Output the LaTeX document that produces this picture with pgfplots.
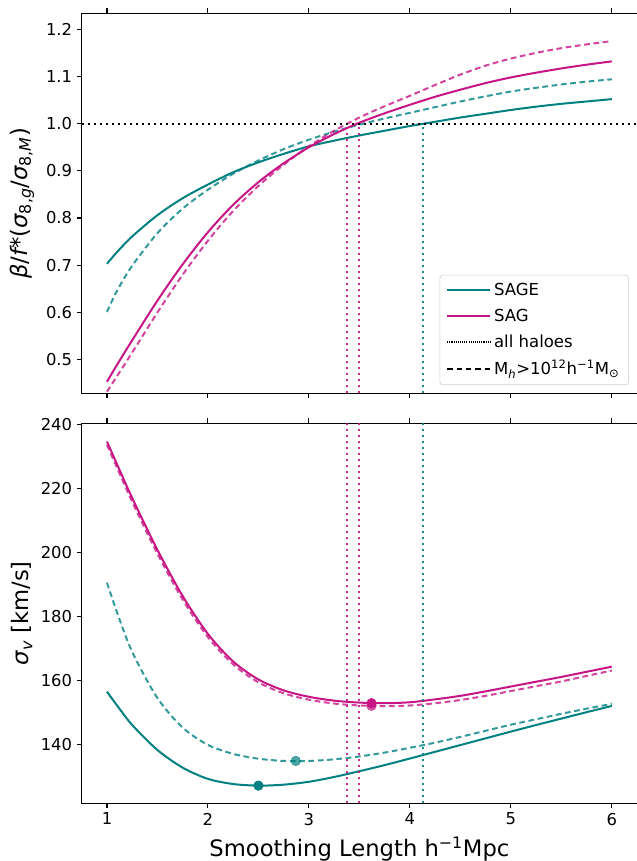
\documentclass[border=0pt]{standalone}
\usepackage{fontspec}
\setmainfont{DejaVu Sans}
\usepackage{pgfplots}
\pgfplotsset{compat=1.18}
\definecolor{sage}{HTML}{008080}
\definecolor{sag}{HTML}{C71585}
\begin{document}
\begin{tikzpicture}
\pgfplotsset{
 myaxis/.style={
  scale only axis, width=416.5pt, height=285pt,
  xmin=0.75, xmax=6.25,
  xtick={1,2,3,4,5,6},
  tick align=outside, major tick length=3.7pt,
  every tick/.style={black, line width=0.8pt},
  axis line style={line width=0.8pt},
  tick label style={font=\fontsize{12.3}{14}\selectfont},
  /pgf/number format/assume math mode=true,
  ylabel style={font=\fontsize{17}{20}\selectfont, at={(axis description cs:-0.1076,0.5)}, anchor=center},
  xlabel style={font=\fontsize{17}{20}\selectfont},
  solidS/.style={sage, line width=1.5pt, smooth},
  dashS/.style={sage, line width=1.5pt, smooth, draw opacity=0.8, dash pattern=on 4.3pt off 2.7pt},
  solidG/.style={sag, line width=1.5pt, smooth},
  dashG/.style={sag, line width=1.5pt, smooth, draw opacity=0.8, dash pattern=on 4.3pt off 2.7pt},
  vdot/.style={line width=1.5pt, dash pattern=on 1.5pt off 3pt, draw opacity=0.9},
 },
}
% ---------------- top panel ----------------
\begin{axis}[myaxis, at={(61.3pt,350.8pt)}, anchor=south west,
  ymin=0.4286, ymax=1.234,
  ytick={0.5,0.6,0.7,0.8,0.9,1.0,1.1,1.2},
  yticklabel style={/pgf/number format/.cd, fixed, fixed zerofill, precision=1},
  xticklabels={},
  ylabel={{\itshape β}/{\itshape f}*({\itshape σ}\textsubscript{8,{\itshape g}}/{\itshape σ}\textsubscript{8,{\itshape M}})},
  legend cell align=left,
  legend image code/.code={\draw[#1] (0pt,0pt) -- (26.2pt,0pt); \path (0pt,0pt) -- (32.4pt,0pt);},
  legend style={at={(axis description cs:1,0)}, anchor=south east, xshift=-6.3pt, yshift=6.2pt,
     draw=black!20, rounded corners=2pt, fill=white, fill opacity=0.8, text opacity=1,
     font=\fontsize{12.4}{14}\selectfont, row sep=4.5pt, inner xsep=4.7pt, inner ysep=4pt},
]
\addplot[solidS, forget plot] coordinates {(1.0,0.703) (1.1,0.728) (1.25,0.761) (1.5,0.806) (1.75,0.842) (2.0,0.871) (2.25,0.897) (2.5,0.918) (2.75,0.936) (3.0,0.952) (3.25,0.964) (3.5,0.975) (3.75,0.985) (4.0,0.995) (4.25,1.004) (4.5,1.013) (4.75,1.021) (5.0,1.029) (5.25,1.036) (5.5,1.042) (5.75,1.047) (6.0,1.052)};
\addplot[dashS, forget plot] coordinates {(1.0,0.601) (1.1,0.646) (1.25,0.699) (1.5,0.768) (1.75,0.820) (2.0,0.860) (2.25,0.894) (2.5,0.922) (2.75,0.946) (3.0,0.966) (3.25,0.983) (3.5,0.998) (3.75,1.011) (4.0,1.023) (4.25,1.035) (4.5,1.047) (4.75,1.058) (5.0,1.068) (5.25,1.076) (5.5,1.083) (5.75,1.089) (6.0,1.094)};
\addplot[solidG, forget plot] coordinates {(1.0,0.453) (1.1,0.489) (1.25,0.541) (1.5,0.625) (1.75,0.702) (2.0,0.770) (2.25,0.828) (2.5,0.876) (2.75,0.916) (3.0,0.950) (3.25,0.978) (3.5,1.002) (3.75,1.022) (4.0,1.040) (4.25,1.057) (4.5,1.072) (4.75,1.086) (5.0,1.098) (5.25,1.108) (5.5,1.117) (5.75,1.125) (6.0,1.132)};
\addplot[dashG, forget plot] coordinates {(1.0,0.432) (1.1,0.465) (1.25,0.515) (1.5,0.600) (1.75,0.680) (2.0,0.752) (2.25,0.815) (2.5,0.868) (2.75,0.913) (3.0,0.952) (3.25,0.985) (3.5,1.013) (3.75,1.037) (4.0,1.059) (4.25,1.082) (4.5,1.104) (4.75,1.123) (5.0,1.138) (5.25,1.150) (5.5,1.160) (5.75,1.168) (6.0,1.175)};
\addplot[black, line width=1.5pt, dash pattern=on 1.5pt off 3pt, forget plot] coordinates {(0.75,1.0) (6.25,1.0)};
\addplot[sag, vdot, forget plot] coordinates {(3.376,0.4286) (3.376,1.0)};
\addplot[sag, vdot, forget plot] coordinates {(3.50,0.4286) (3.50,1.0)};
\addplot[sage, vdot, forget plot] coordinates {(4.125,0.4286) (4.125,1.0)};
\addlegendimage{sage, line width=1.5pt}
\addlegendentry{SAGE}
\addlegendimage{sag, line width=1.5pt}
\addlegendentry{SAG}
\addlegendimage{black, line width=1.5pt, dash pattern=on 0.8pt off 0.8pt}
\addlegendentry{all haloes}
\addlegendimage{black, line width=1.5pt, dash pattern=on 4pt off 3pt}
\addlegendentry{M\textsubscript{{\itshape h}}>10\textsuperscript{12}h\textsuperscript{−1}M\textsubscript{⊙}}
\end{axis}
% ---------------- bottom panel ----------------
\begin{axis}[myaxis, at={(61.3pt,43.3pt)}, anchor=south west,
  ymin=121.8, ymax=240.3,
  ytick={140,160,180,200,220,240},
  ylabel={{\itshape σ}\textsubscript{{\itshape v}} [km/s]},
  xlabel={Smoothing Length h\textsuperscript{−1}Mpc},
  xlabel style={at={(axis description cs:0.5,-0.1405)}, anchor=base},
]
\addplot[solidS] coordinates {(1.0,156.6) (1.1,152.3) (1.25,146.2) (1.5,138.4) (1.75,132.9) (2.0,129.4) (2.25,127.8) (2.5,127.3) (2.75,127.6) (3.0,128.5) (3.25,130.0) (3.5,131.8) (3.75,133.7) (4.0,135.75) (4.25,137.85) (4.5,139.95) (4.75,142.05) (5.0,144.15) (5.25,146.2) (5.5,148.2) (5.75,150.2) (6.0,152.15)};
\addplot[dashS] coordinates {(1.0,190.6) (1.1,181.3) (1.25,169.0) (1.5,154.6) (1.75,145.4) (2.0,140.0) (2.25,137.2) (2.5,135.7) (2.75,135.0) (3.0,135.0) (3.25,135.5) (3.5,136.4) (3.75,137.6) (4.0,139.1) (4.25,140.7) (4.5,142.5) (4.75,144.4) (5.0,146.3) (5.25,148.0) (5.5,149.7) (5.75,151.3) (6.0,152.8)};
\addplot[solidG] coordinates {(1.0,234.6) (1.1,227.5) (1.25,217.0) (1.5,200.8) (1.75,186.4) (2.0,174.6) (2.25,166.0) (2.5,160.4) (2.75,157.0) (3.0,155.0) (3.25,153.8) (3.5,153.2) (3.75,153.0) (4.0,153.3) (4.25,154.2) (4.5,155.3) (4.75,156.7) (5.0,158.2) (5.25,159.7) (5.5,161.2) (5.75,162.8) (6.0,164.4)};
\addplot[dashG] coordinates {(1.0,233.6) (1.1,226.4) (1.25,215.8) (1.5,199.6) (1.75,185.3) (2.0,173.6) (2.25,165.1) (2.5,159.5) (2.75,156.1) (3.0,154.1) (3.25,152.9) (3.5,152.3) (3.75,152.1) (4.0,152.3) (4.25,153.0) (4.5,154.0) (4.75,155.3) (5.0,156.8) (5.25,158.3) (5.5,159.8) (5.75,161.5) (6.0,163.2)};
\addplot[sag, vdot] coordinates {(3.376,121.8) (3.376,240.3)};
\addplot[sag, vdot] coordinates {(3.50,121.8) (3.50,240.3)};
\addplot[sage, vdot] coordinates {(4.125,121.8) (4.125,240.3)};
\addplot[only marks, mark=*, mark size=3.6pt, sage] coordinates {(2.50,127.3)};
\addplot[only marks, mark=*, mark size=3.6pt, sage, opacity=0.7] coordinates {(2.87,135.0)};
\addplot[only marks, mark=*, mark size=3.6pt, sag, opacity=0.7] coordinates {(3.62,152.2)};
\addplot[only marks, mark=*, mark size=3.6pt, sag] coordinates {(3.62,153.0)};
\end{axis}
\pgfresetboundingbox
\path[use as bounding box] (0pt,0pt) rectangle (477pt,645.75pt);
\end{tikzpicture}
\end{document}
